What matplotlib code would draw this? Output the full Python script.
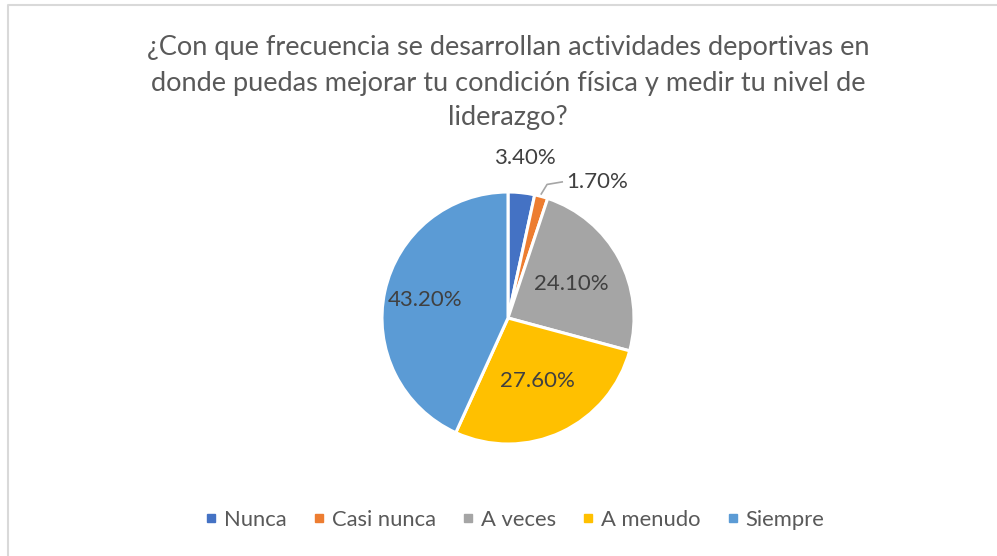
import numpy as np
import matplotlib.pyplot as plt
from matplotlib.lines import Line2D

plt.rcParams['font.family'] = ['Lato', 'DejaVu Sans']

title = "¿Con que frecuencia se desarrollan actividades deportivas en\ndonde puedas mejorar tu condición física y medir tu nivel de\nliderazgo?"
categories = ["Nunca", "Casi nunca", "A veces", "A menudo", "Siempre"]
values = [3.4, 1.7, 24.1, 27.6, 43.2]
colors = ["#4472C4", "#ED7D31", "#A5A5A5", "#FFC000", "#5B9BD5"]

W, H = 997, 556
txt = "#595959"


def main():
    fig = plt.figure(figsize=(W / 100, H / 100), dpi=100)

    # chart frame (only top/left edges visible in the crop)
    frame = fig.add_axes([0, 0, 1, 1])
    frame.set_xlim(0, W)
    frame.set_ylim(H, 0)
    frame.axis("off")
    frame.plot([8, 8, W + 5], [H + 5, 5, 5], color="#d9d9d9", lw=1.5)

    fig.text(508 / W, 1 - 83 / H, title, ha="center", va="center",
             fontsize=19.5, color=txt, linespacing=1.5)

    cx, cy, r = 508, 318, 126
    ax = fig.add_axes([(cx - r) / W, (H - cy - r) / H, 2 * r / W, 2 * r / H])
    wedges, _ = ax.pie(values, colors=colors, startangle=90, counterclock=False,
                       radius=1, wedgeprops=dict(edgecolor="white", linewidth=2.2))
    ax.set_xlim(-1, 1)
    ax.set_ylim(-1, 1)
    ax.set_aspect("equal")

    # label radius per slice (Excel "best fit")
    label_r = [1.28, None, 0.57, 0.55, 0.67]
    for w, v, lr in zip(wedges, values, label_r):
        mid = np.deg2rad((w.theta1 + w.theta2) / 2)
        lab = f"{v:.2f}%"
        if lr is None:
            # leader line for the small slice
            x0, y0 = np.cos(mid), np.sin(mid)
            ax.plot([x0, 0.31, 0.43], [y0 + 0.02, 1.06, 1.08],
                    color="#a6a6a6", lw=1.2, clip_on=False)
            ax.text(0.46, 1.08, lab, ha="left", va="center",
                    fontsize=16, color="#404040")
        else:
            ax.text(lr * np.cos(mid), lr * np.sin(mid), lab, ha="center",
                    va="center", fontsize=16, color="#404040")

    handles = [Line2D([], [], marker="s", ls="", color=c, markersize=6)
               for c in colors]
    fig.legend(handles, categories, loc="center", ncol=5,
               bbox_to_anchor=(513 / W, 1 - 520 / H), frameon=False,
               fontsize=15.8, labelcolor=txt, handletextpad=0.15,
               columnspacing=1.0, handlelength=0.9)

    fig.savefig("out.png", dpi=100)


if __name__ == "__main__":
    main()
